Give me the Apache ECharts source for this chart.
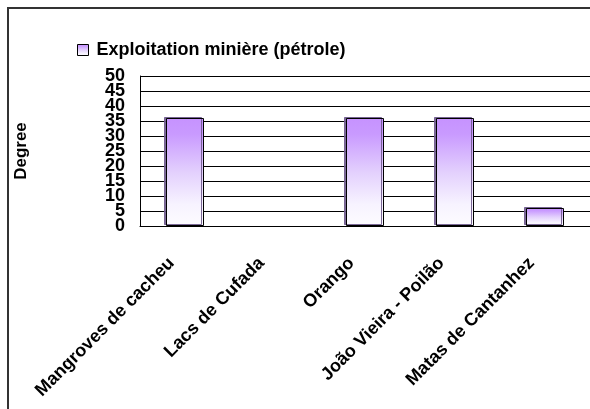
<!DOCTYPE html>
<html>
<head>
<meta charset="utf-8">
<script src="https://cdn.jsdelivr.net/npm/echarts@6/dist/echarts.min.js"></script>
<style>
html,body{margin:0;padding:0;background:#fff;}
#main{width:590px;height:409px;}
</style>
</head>
<body>
<div id="main"></div>
<script>
var categories = ['Mangroves de cacheu', 'Lacs de Cufada', 'Orango', 'João Vieira - Poilão', 'Matas de Cantanhez'];
var seriesName = 'Exploitation minière (pétrole)';
var values = [36, 0, 36, 36, 6];
var yAxisName = 'Degree';
var yMin = 0, yMax = 50, yStep = 5;

var FONT = "Arial, 'Liberation Sans', sans-serif";
var barGradient = new echarts.graphic.LinearGradient(0, 0, 0, 1, [
  {offset: 0, color: '#c692ff'},
  {offset: 0.15, color: '#c99aff'},
  {offset: 0.5, color: '#e3d0fd'},
  {offset: 0.8, color: '#f7f3ff'},
  {offset: 1, color: '#fdfcff'}
]);

var barData = values.map(function (v) {
  return v === 0 ? {value: v, itemStyle: {borderWidth: 0, shadowColor: 'transparent', color: 'transparent'}} : v;
});

var labelStyle = {fontFamily: FONT, fontWeight: 'bold', fontSize: 18, color: '#000'};

var chart = echarts.init(document.getElementById('main'), null, {renderer: 'canvas'});
chart.setOption({
  animation: false,
  backgroundColor: '#ffffff',
  graphic: [{
    type: 'rect',
    shape: {x: 8, y: 8, width: 700, height: 500},
    style: {fill: 'none', stroke: '#333333', lineWidth: 2},
    silent: true,
    z: 100
  }],
  legend: {
    left: 77,
    top: 41,
    padding: 0,
    itemWidth: 11,
    itemHeight: 11,
    icon: 'rect',
    itemStyle: {borderColor: '#000', borderWidth: 1},
    textStyle: {fontFamily: FONT, fontWeight: 'bold', fontSize: 18, color: '#000', padding: [0, 0, 0, 3]},
    data: [seriesName]
  },
  grid: {left: 140, top: 76, width: 458, height: 150, containLabel: false},
  xAxis: {
    type: 'category',
    data: categories,
    axisLine: {show: true, lineStyle: {color: '#000', width: 1}},
    axisTick: {show: false},
    axisLabel: Object.assign({
      interval: 0,
      rotate: 45,
      margin: 21,
      padding: [0, 19, 0, 0]
    }, labelStyle),
    splitLine: {show: false}
  },
  yAxis: [{
    type: 'value',
    position: 'left',
    min: yMin,
    max: yMax,
    interval: yStep,
    name: yAxisName,
    nameLocation: 'middle',
    nameGap: 110,
    nameRotate: 90,
    nameTextStyle: {fontFamily: FONT, fontWeight: 'bold', fontSize: 17, color: '#000'},
    axisLine: {show: true, lineStyle: {color: '#000', width: 1}},
    axisTick: {show: false},
    axisLabel: Object.assign({
      margin: 15,
      showMinLabel: false,
      showMaxLabel: false,
      hideOverlap: false
    }, labelStyle),
    splitLine: {show: true, lineStyle: {color: '#000', width: 1}}
  }, {
    type: 'value',
    position: 'left',
    offset: 0,
    min: yMin,
    max: yMax,
    interval: yStep,
    axisLine: {show: false},
    axisTick: {show: false},
    splitLine: {show: false},
    axisLabel: Object.assign({
      margin: 15,
      showMinLabel: true,
      showMaxLabel: true,
      hideOverlap: false,
      formatter: function (v) { return (v === yMin || v === yMax) ? String(v) : ''; }
    }, labelStyle)
  }],
  series: [{
    name: seriesName,
    type: 'bar',
    data: barData,
    barWidth: 38,
    itemStyle: {
      color: barGradient,
      borderColor: '#000',
      borderWidth: 1,
      shadowColor: 'rgba(110,90,140,0.9)',
      shadowBlur: 0,
      shadowOffsetX: -2,
      shadowOffsetY: -1
    }
  }]
});
</script>
</body>
</html>
